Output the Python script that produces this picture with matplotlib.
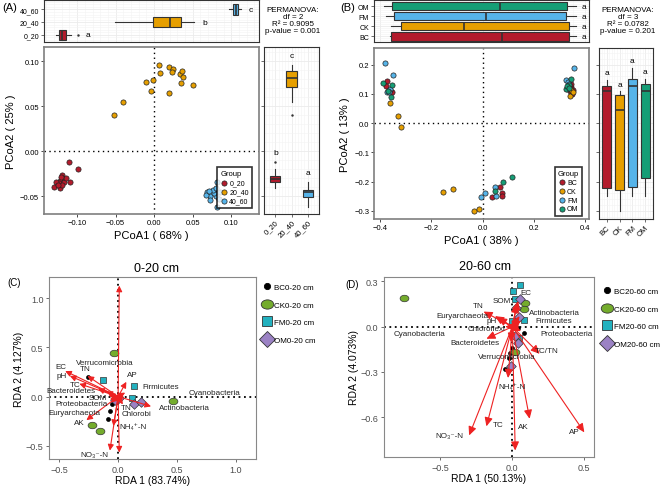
import matplotlib
matplotlib.use('Agg')
import matplotlib.pyplot as plt
from matplotlib.path import Path
from matplotlib.transforms import Affine2D
from matplotlib.lines import Line2D
from matplotlib.ticker import FuncFormatter

plt.rcParams['font.family'] = ['Liberation Sans', 'DejaVu Sans']

# ---------------- data: (A) PCoA 0-60 cm by depth ----------------
a_groups = ['0_20', '20_40', '40_60']
a_colors = ['#B31B2C', '#E69F00', '#56B4E9']
a_x_0_20 = [-0.110, -0.099, -0.109, -0.120, -0.119, -0.122, -0.124, -0.127, -0.130, -0.122, -0.117, -0.115, -0.119, -0.125, -0.121]
a_y_0_20 = [-0.012, -0.020, -0.034, -0.027, -0.030, -0.033, -0.036, -0.034, -0.040, -0.041, -0.034, -0.030, -0.038, -0.038, -0.029]
a_x_20_40 = [-0.052, -0.041, -0.011, -0.004, -0.002, 0.006, 0.008, 0.019, 0.025, 0.023, 0.019, 0.033, 0.036, 0.037, 0.035, 0.051]
a_y_20_40 = [0.040, 0.054, 0.077, 0.067, 0.079, 0.096, 0.087, 0.093, 0.091, 0.088, 0.064, 0.086, 0.089, 0.082, 0.076, 0.073]
a_x_40_60 = [0.082, 0.069, 0.073, 0.072, 0.077, 0.080, 0.084, 0.081, 0.077, 0.076, 0.067, 0.080, 0.071, 0.086]
a_y_40_60 = [-0.034, -0.046, -0.050, -0.054, -0.044, -0.050, -0.053, -0.062, -0.047, -0.043, -0.049, -0.041, -0.044, -0.046]

# top boxplot (PCoA1) stats per group
a_top_lo = [-0.128, -0.051, 0.097]
a_top_q1 = [-0.124, -0.001, 0.102]
a_top_med = [-0.119, 0.020, 0.106]
a_top_q3 = [-0.115, 0.035, 0.109]
a_top_hi = [-0.108, 0.052, 0.113]
a_top_out = [[-0.099], [], []]
a_top_letters = ['a', 'b', 'c']

# right boxplot (PCoA2) stats per group
a_rt_lo = [-0.041, 0.054, -0.062]
a_rt_q1 = [-0.034, 0.071, -0.051]
a_rt_med = [-0.031, 0.081, -0.046]
a_rt_q3 = [-0.028, 0.089, -0.043]
a_rt_hi = [-0.020, 0.096, -0.034]
a_rt_out = [[-0.012], [0.040], []]
a_rt_letters = ['b', 'c', 'a']

# ---------------- data: (B) PCoA by treatment ----------------
b_groups = ['BC', 'CK', 'FM', 'OM']
b_colors = ['#B31B2C', '#E69F00', '#56B4E9', '#159E76']
b_x_BC = [-0.373, -0.375, -0.353, -0.360, 0.038, 0.069, 0.077, 0.074, 0.345, 0.348, 0.339, 0.350, 0.343]
b_y_BC = [0.145, 0.127, 0.106, 0.112, -0.252, -0.220, -0.240, -0.248, 0.124, 0.101, 0.109, 0.112, 0.135]
b_x_CK = [-0.361, -0.330, -0.317, -0.155, -0.117, -0.034, -0.016, 0.339, 0.345, 0.350]
b_y_CK = [0.068, 0.024, -0.013, -0.237, -0.227, -0.301, -0.293, 0.092, 0.112, 0.105]
b_x_FM = [-0.382, -0.349, -0.362, -0.373, -0.366, -0.006, 0.009, 0.047, 0.052, 0.355, 0.323, 0.332, 0.328, 0.336]
b_y_FM = [0.207, 0.164, 0.116, 0.106, 0.108, -0.253, -0.238, -0.217, -0.251, 0.190, 0.146, 0.141, 0.116, 0.135]
b_x_OM = [-0.388, -0.352, -0.355, -0.368, 0.049, 0.079, 0.113, 0.342, 0.335, 0.323, 0.328, 0.338]
b_y_OM = [0.136, 0.132, 0.089, 0.110, -0.232, -0.200, -0.183, 0.152, 0.132, 0.116, 0.127, 0.120]

b_top_lo = [-0.362, -0.356, -0.375, -0.384]
b_top_q1 = [-0.355, -0.319, -0.347, -0.352]
b_top_med = [0.074, -0.073, 0.014, 0.069]
b_top_q3 = [0.336, 0.336, 0.326, 0.329]
b_top_hi = [0.365, 0.365, 0.362, 0.365]

b_rt_lo = [-0.248, -0.300, -0.251, -0.248]
b_rt_q1 = [-0.223, -0.229, -0.217, -0.188]
b_rt_med = [0.109, 0.046, 0.126, 0.111]
b_rt_q3 = [0.127, 0.097, 0.152, 0.134]
b_rt_hi = [0.149, 0.109, 0.189, 0.152]

# ---------------- data: (C) RDA 0-20 cm ----------------
c_bc_x = [-0.256, -0.071, -0.085, -0.048]
c_bc_y = [0.197, -0.150, -0.228, -0.075]
c_ck_x = [-0.034, 0.469, -0.224, -0.156]
c_ck_y = [0.442, -0.041, -0.289, -0.347]
c_fm_x = [-0.131, 0.136, 0.116]
c_fm_y = [0.173, 0.112, -0.014]
c_om_x = [0.134, 0.193, 0.010, -0.030]
c_om_y = [-0.071, -0.051, -0.017, -0.030]
c_arrow_x = [-0.45, -0.41, -0.26, -0.33, -0.17, -0.10, -0.08, -0.07, -0.06, -0.27, -0.07, -0.04, 0.01, 0.01, 0.07, 0.06, 0.05, 0.28, 0.03, 0.04]
c_arrow_y = [0.26, 0.21, 0.21, 0.13, 0.08, 0.05, 0.01, -0.03, -0.06, -0.24, -0.55, -0.30, -0.57, 1.13, 0.15, 0.04, 0.00, -0.10, -0.06, -0.08]
c_labels = ['EC', 'pH', 'TN', 'TC', 'Bacteroidetes', 'Verrucomicrobia', 'SOM', 'Proteobacteria', 'Euryarchaeota', 'AK',
            'NO\u2083\u207b-N', 'NH\u2084\u207a-N', '', '', 'AP', 'Firmicutes', 'Cyanobacteria', 'Actinobacteria', 'TN', 'Chlorobi']
c_label_x = [-0.483, -0.483, -0.278, -0.369, -0.405, -0.114, -0.170, -0.313, -0.369, -0.327,
             -0.199, 0.128, 0, 0, 0.122, 0.361, 0.824, 0.568, 0.065, 0.156]
c_label_y = [0.306, 0.214, 0.282, 0.119, 0.062, 0.350, -0.012, -0.075, -0.160, -0.269,
             -0.592, -0.306, 0, 0, 0.224, 0.102, 0.044, -0.109, -0.116, -0.177]

# ---------------- data: (D) RDA 20-60 cm ----------------
d_bc_x = [0.081, 0.039, -0.019, -0.023, -0.049, 0.000]
d_bc_y = [-0.044, -0.009, -0.172, -0.205, -0.278, -0.139]
d_ck_x = [-0.755, 0.086, 0.079, 0.016]
d_ck_y = [0.188, 0.159, 0.115, -0.168]
d_fm_x = [0.051, 0.002, 0.021, 0.081, 0.000, 0.046]
d_fm_y = [0.274, 0.236, 0.185, 0.044, 0.038, -0.073]
d_om_x = [0.051, 0.028, 0.046, 0.039, -0.007, 0.020]
d_om_y = [0.181, 0.126, 0.066, -0.106, -0.260, -0.060]
d_arrow_x = [-0.20, -0.12, -0.10, -0.05, -0.18, 0.04, 0.03, 0.19, -0.03, -0.30, -0.18, 0.12, 0.50, 0.02, 0.05, 0.06, 0.06, -0.01, -0.02]
d_arrow_y = [0.10, 0.07, 0.06, 0.00, -0.08, 0.17, 0.15, -0.18, -0.34, -0.72, -0.66, -0.61, -0.70, -0.82, 0.07, 0.04, -0.03, -0.10, 0.00]
d_labels = ['TN', 'Euryarchaeota', 'pH', 'Chloroflexi', 'Bacteroidetes', 'SOM', 'EC', 'TC/TN', 'NH\u2084\u207a-N',
            'NO\u2083\u207b-N', 'TC', 'AK', 'AP', '', 'Actinobacteria', 'Firmicutes', 'Proteobacteria', 'Verrucomicrobia', 'Cyanobacteria']
d_label_x = [-0.238, -0.350, -0.143, -0.181, -0.262, -0.076, 0.097, 0.236, 0.000, -0.435, -0.100, 0.074, 0.428, 0,
             0.294, 0.287, 0.375, -0.042, -0.648]
d_label_y = [0.141, 0.074, 0.042, -0.014, -0.106, 0.174, 0.225, -0.161, -0.393, -0.720, -0.651, -0.662, -0.691, 0,
             0.093, 0.042, -0.044, -0.199, -0.044]

W, H = 668, 489
fig = plt.figure(figsize=(W / 100, H / 100), dpi=100)


def add_ax(l, t, r, b):
    return fig.add_axes([l / W, 1 - b / H, (r - l) / W, (b - t) / H])


def stats(lo, q1, med, q3, hi, out):
    return [dict(whislo=lo[i], q1=q1[i], med=med[i], q3=q3[i], whishi=hi[i], fliers=out[i])
            for i in range(len(lo))]


def bw_style(ax):
    ax.grid(True, which='major', color='#EBEBEB', lw=0.6)
    ax.grid(True, which='minor', color='#F3F3F3', lw=0.4)
    ax.minorticks_on()
    ax.tick_params(which='minor', length=0)
    ax.set_axisbelow(True)
    for s in ax.spines.values():
        s.set_color('#333333')
        s.set_linewidth(0.8)
    ax.tick_params(which='major', length=2, width=0.5, color='#333333', labelsize=5, pad=1.5)


def draw_box(ax, st, colors, horiz, widths):
    bp = ax.bxp(st, positions=range(1, len(st) + 1), widths=widths, patch_artist=True, showcaps=False,
                orientation='horizontal' if horiz else 'vertical',
                boxprops=dict(edgecolor='#333333', linewidth=0.8),
                whiskerprops=dict(color='#333333', linewidth=0.8),
                medianprops=dict(color='#333333', linewidth=1.2),
                flierprops=dict(marker='.', markersize=1.5, markerfacecolor='#333333', markeredgecolor='#333333'))
    for patch, c in zip(bp['boxes'], colors):
        patch.set_facecolor(c)


def pcoa_main(ax, xs, ys, colors, groups):
    for x, y, c, g in zip(xs, ys, colors, groups):
        ax.scatter(x, y, s=14, c=c, edgecolors='#222222', linewidths=0.5, label=g, zorder=3)
    ax.axhline(0, color='black', ls=(0, (1, 2.5)), lw=1)
    ax.axvline(0, color='black', ls=(0, (1, 2.5)), lw=1)
    for s in ax.spines.values():
        s.set_color('#7F7F7F')
        s.set_linewidth(1.2)
    ax.tick_params(length=2, width=0.5, labelsize=5.5, pad=1.5)


# ======================= (A) =======================
axA = add_ax(44, 48, 259, 215)
pcoa_main(axA, [a_x_0_20, a_x_20_40, a_x_40_60], [a_y_0_20, a_y_20_40, a_y_40_60], a_colors, a_groups)
axA.set_xlim(-0.143, 0.136)
axA.set_ylim(-0.070, 0.1156)
axA.set_xticks([-0.10, -0.05, 0.00, 0.05, 0.10])
axA.set_yticks([-0.05, 0.00, 0.05, 0.10])
axA.xaxis.set_major_formatter(FuncFormatter(lambda v, p: f'{v:.2f}'.replace('-', '\u2212')))
axA.yaxis.set_major_formatter(FuncFormatter(lambda v, p: f'{v:.2f}'.replace('-', '\u2212')))
axA.set_xlabel('PCoA1 ( 68% )', fontsize=8, labelpad=3)
axA.set_ylabel('PCoA2 ( 25% )', fontsize=8, labelpad=3)
legA = axA.legend(title='Group', loc='lower right', bbox_to_anchor=(0.985, 0.015), fontsize=5, title_fontsize=5.5,
                  handletextpad=0.1, labelspacing=0.3, borderpad=0.5, handlelength=1.2, fancybox=False)
legA.get_frame().set_edgecolor('black')
legA.get_frame().set_linewidth(1.2)
legA._legend_box.align = 'left'

axAt = add_ax(44, 1, 259, 43)
bw_style(axAt)
draw_box(axAt, stats(a_top_lo, a_top_q1, a_top_med, a_top_q3, a_top_hi, a_top_out), a_colors, True, 0.8)
axAt.set_xlim(-0.143, 0.136)
axAt.set_ylim(0.42, 3.75)
axAt.set_yticks([1, 2, 3])
axAt.set_yticklabels(a_groups)
axAt.set_xticks([-0.10, -0.05, 0.00, 0.05, 0.10])
axAt.tick_params(axis='x', labelbottom=False, length=0)
for i, t in enumerate(a_top_letters):
    axAt.text(a_top_hi[i] + 0.01 + (0.009 if a_top_out[i] else 0), i + 1, t, fontsize=6, va='center', ha='left')

axAr = add_ax(264, 48, 319, 215)
bw_style(axAr)
draw_box(axAr, stats(a_rt_lo, a_rt_q1, a_rt_med, a_rt_q3, a_rt_hi, a_rt_out), a_colors, False, 0.62)
axAr.set_ylim(-0.070, 0.1156)
axAr.set_xlim(0.3, 3.7)
axAr.set_yticks([-0.05, 0.00, 0.05, 0.10])
axAr.tick_params(axis='y', labelleft=False)
axAr.set_xticks([1, 2, 3])
axAr.set_xticklabels(a_groups, rotation=45, ha='right', rotation_mode='anchor', fontsize=5.5)
for i, t in enumerate(a_rt_letters):
    top = max([a_rt_hi[i]] + a_rt_out[i])
    axAr.text(i + 1, top + 0.006, t, fontsize=6, ha='center', va='bottom')

fig.text(293 / W, 1 - 21 / H, 'PERMANOVA:\ndf = 2\nR\u00b2 = 0.9095\np-value = 0.001', fontsize=5.8,
         ha='center', va='center', linespacing=1.05)
fig.text(2 / W, 1 - 8 / H, '(A)', fontsize=8, ha='left', va='center')

# ======================= (B) =======================
axB = add_ax(374, 49, 589, 220)
pcoa_main(axB, [b_x_BC, b_x_CK, b_x_FM, b_x_OM], [b_y_BC, b_y_CK, b_y_FM, b_y_OM], b_colors, b_groups)
axB.set_xlim(-0.423, 0.414)
axB.set_ylim(-0.328, 0.257)
axB.set_xticks([-0.4, -0.2, 0.0, 0.2, 0.4])
axB.set_yticks([-0.3, -0.2, -0.1, 0.0, 0.1, 0.2])
axB.xaxis.set_major_formatter(FuncFormatter(lambda v, p: f'{v:.1f}'.replace('-', '\u2212')))
axB.yaxis.set_major_formatter(FuncFormatter(lambda v, p: f'{v:.1f}'.replace('-', '\u2212')))
axB.set_xlabel('PCoA1 ( 38% )', fontsize=8, labelpad=3)
axB.set_ylabel('PCoA2 ( 13% )', fontsize=8, labelpad=3)
legB = axB.legend(title='Group', loc='lower right', bbox_to_anchor=(0.985, 0.0), fontsize=5, title_fontsize=5.5,
                  handletextpad=0.1, labelspacing=0.25, borderpad=0.45, handlelength=1.2, fancybox=False)
legB.get_frame().set_edgecolor('black')
legB.get_frame().set_linewidth(1.2)
legB._legend_box.align = 'left'

axBt = add_ax(374, 1, 589, 43)
bw_style(axBt)
draw_box(axBt, stats(b_top_lo, b_top_q1, b_top_med, b_top_q3, b_top_hi, [[], [], [], []]), b_colors, True, 0.82)
axBt.set_xlim(-0.423, 0.414)
axBt.set_ylim(0.45, 4.6)
axBt.set_yticks([1, 2, 3, 4])
axBt.set_yticklabels(b_groups)
axBt.set_xticks([-0.4, -0.2, 0.0, 0.2, 0.4])
axBt.tick_params(axis='x', labelbottom=False, length=0)
for i in range(4):
    axBt.text(0.385, i + 1, 'a', fontsize=6, va='center', ha='left')

axBr = add_ax(599, 49, 653, 220)
bw_style(axBr)
draw_box(axBr, stats(b_rt_lo, b_rt_q1, b_rt_med, b_rt_q3, b_rt_hi, [[], [], [], []]), b_colors, False, 0.72)
axBr.set_ylim(-0.328, 0.257)
axBr.set_xlim(0.4, 4.6)
axBr.set_yticks([-0.3, -0.2, -0.1, 0.0, 0.1, 0.2])
axBr.tick_params(axis='y', labelleft=False)
axBr.set_xticks([1, 2, 3, 4])
axBr.set_xticklabels(b_groups, rotation=45, ha='right', rotation_mode='anchor', fontsize=5.5)
for i in range(4):
    axBr.text(i + 1, b_rt_hi[i] + 0.012, 'a', fontsize=6, ha='center', va='bottom')

fig.text(628 / W, 1 - 21 / H, 'PERMANOVA:\ndf = 3\nR\u00b2 = 0.0782\np-value = 0.201', fontsize=5.8,
         ha='center', va='center', linespacing=1.05)
fig.text(340 / W, 1 - 8 / H, '(B)', fontsize=8, ha='left', va='center')

# ======================= (C) & (D) RDA =======================
ellipse = Path.unit_circle().transformed(Affine2D().scale(1.35, 1.0))
rda_styles = [dict(marker='o', color='black', size=8),
              dict(marker=ellipse, color='#74AC2C', size=40),
              dict(marker='s', color='#22B1BF', size=20),
              dict(marker='D', color='#9B82C4', size=24)]


def rda_panel(ax, pts, ax_x, ax_y, labels, lx, ly, head, ms, fs):
    ax.axhline(0, color='black', ls=(0, (1, 2)), lw=1.3, zorder=1)
    ax.axvline(0, color='black', ls=(0, (1, 2)), lw=1.3, zorder=1)
    for (px, py), st in zip(pts, rda_styles):
        ec = 'black' if st['color'] == 'black' else '#333333'
        ax.scatter(px, py, s=st['size'], marker=st['marker'], c=st['color'], edgecolors=ec, linewidths=0.5, zorder=2)
    for x, y in zip(ax_x, ax_y):
        ax.annotate('', xy=(x, y), xytext=(0, 0), zorder=3,
                    arrowprops=dict(arrowstyle=f'-|>,head_length={head[0]},head_width={head[1]}',
                                    color='#EE2222', lw=0.8, shrinkA=0, shrinkB=0, mutation_scale=ms))
    for t, x, y in zip(labels, lx, ly):
        if t:
            ax.text(x, y, t, fontsize=fs, ha='center', va='center', color='#222222', zorder=4)
    for s in ax.spines.values():
        s.set_color('#888888')
        s.set_linewidth(0.8)
    ax.tick_params(length=2.5, width=0.6, color='#555555', labelsize=6.5, labelcolor='#4D4D4D', pad=1.5)
    fmt = FuncFormatter(lambda v, p: f'{v:.1f}'.replace('-', '\u2212'))
    ax.xaxis.set_major_formatter(fmt)
    ax.yaxis.set_major_formatter(fmt)


def rda_legend(names, x0, y0, step):
    for i, (name, st) in enumerate(zip(names, rda_styles)):
        ms = [4.5, 9, 7, 8][i]
        h = Line2D([0], [0], marker=st['marker'], color='none', markerfacecolor=st['color'],
                   markeredgecolor='#333333' if i else 'black', markeredgewidth=0.6, markersize=ms)
        fig.legend([h], [name], loc='center left', bbox_to_anchor=(x0 / W, 1 - (y0 + i * step) / H),
                   frameon=False, fontsize=5.8, handletextpad=0.3, borderpad=0, borderaxespad=0,
                   handlelength=1.2)


axC = add_ax(49, 278, 256, 460)
rda_panel(axC, [(c_bc_x, c_bc_y), (c_ck_x, c_ck_y), (c_fm_x, c_fm_y), (c_om_x, c_om_y)],
          c_arrow_x, c_arrow_y, c_labels, c_label_x, c_label_y, (0.5, 0.25), 7, 5.8)
axC.set_xlim(-0.588, 1.173)
axC.set_ylim(-0.636, 1.218)
axC.set_xticks([-0.5, 0.0, 0.5, 1.0])
axC.set_yticks([-0.5, 0.0, 0.5, 1.0])
axC.set_xlabel('RDA 1 (83.74%)', fontsize=7.5, labelpad=1)
axC.set_ylabel('RDA 2 (4.127%)', fontsize=7.5, labelpad=1)
fig.text(157 / W, 1 - 269 / H, '0-20 cm', fontsize=9, ha='center', va='center')
fig.text(7 / W, 1 - 283 / H, '(C)', fontsize=7, ha='left', va='center')
rda_legend(['BC0-20 cm', 'CK0-20 cm', 'FM0-20 cm', 'OM0-20 cm'], 262, 288, 17.7)

axD = add_ax(384, 278, 594, 458)
rda_panel(axD, [(d_bc_x, d_bc_y), (d_ck_x, d_ck_y), (d_fm_x, d_fm_y), (d_om_x, d_om_y)],
          d_arrow_x, d_arrow_y, d_labels, d_label_x, d_label_y, (0.65, 0.3), 8, 5.8)
axD.set_xlim(-0.891, 0.567)
axD.set_ylim(-0.863, 0.329)
axD.set_xticks([-0.5, 0.0, 0.5])
axD.set_yticks([-0.6, -0.3, 0.0, 0.3])
axD.set_xlabel('RDA 1 (50.13%)', fontsize=7.5, labelpad=1)
axD.set_ylabel('RDA 2 (4.073%)', fontsize=7.5, labelpad=1)
fig.text(485 / W, 1 - 267 / H, '20-60 cm', fontsize=9, ha='center', va='center')
fig.text(345 / W, 1 - 285 / H, '(D)', fontsize=7, ha='left', va='center')
rda_legend(['BC20-60 cm', 'CK20-60 cm', 'FM20-60 cm', 'OM20-60 cm'], 602, 292, 17.7)

fig.savefig('out.png', dpi=100)
